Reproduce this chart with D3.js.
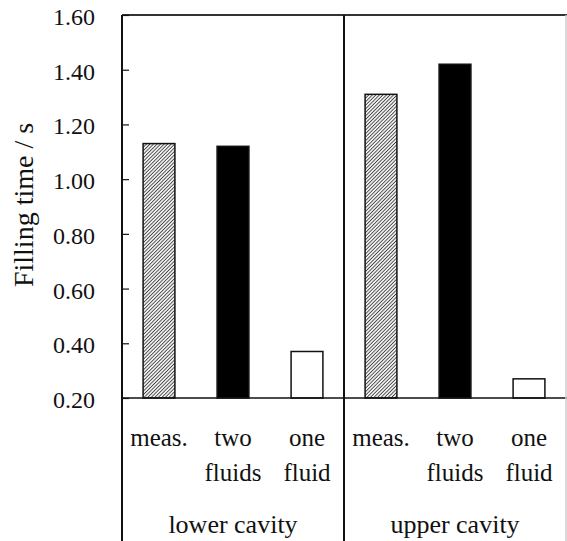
<!DOCTYPE html>
<html>
<head>
<meta charset="utf-8">
<script src="https://cdn.jsdelivr.net/npm/d3@7"></script>
<style>
  body { margin: 0; background: #fff; }
  svg { display: block; }
</style>
</head>
<body>
<div id="container"></div>
<script>
// data
const groups = ['lower cavity', 'upper cavity'];
const methods = ['meas.', 'two fluids', 'one fluid'];
const methodLines = [['meas.'], ['two', 'fluids'], ['one', 'fluid']];
const lowerValues = [1.13, 1.12, 0.37];
const upperValues = [1.31, 1.42, 0.27];
const yTicks = [0.20, 0.40, 0.60, 0.80, 1.00, 1.20, 1.40, 1.60];

const width = 567, height = 541;
const plotLeft = 122, plotRight = 566, plotTop = 15, plotBase = 398;
const serif = "'Liberation Serif', 'DejaVu Serif', serif";

const svg = d3.select('#container').append('svg')
  .attr('width', width)
  .attr('height', height)
  .attr('font-family', serif);

// hatch for measured bars
const defs = svg.append('defs');
defs.append('pattern')
  .attr('id', 'hatch')
  .attr('patternUnits', 'userSpaceOnUse')
  .attr('width', 2.5)
  .attr('height', 2.5)
  .attr('patternTransform', 'rotate(45)')
  .call(p => {
    p.append('rect').attr('width', 2.5).attr('height', 2.5).attr('fill', '#eee');
    p.append('line').attr('x1', 0).attr('y1', 0).attr('x2', 0).attr('y2', 2.5)
      .attr('stroke', '#222').attr('stroke-width', 1.4);
  });

const y = d3.scaleLinear().domain([0.2, 1.6]).range([plotBase, plotTop]);
const xGroup = d3.scaleBand().domain(groups).range([plotLeft, plotRight]);
const xInner = d3.scaleBand().domain(methods).range([0, xGroup.bandwidth()]);
const barW = xInner.bandwidth() * 0.43;

const fills = ['url(#hatch)', '#000', '#fff'];

const data = [];
groups.forEach((g, gi) => {
  const vals = gi === 0 ? lowerValues : upperValues;
  methods.forEach((m, mi) => data.push({group: g, method: m, value: vals[mi], fill: fills[mi]}));
});

// bars
svg.append('g').selectAll('rect')
  .data(data)
  .join('rect')
  .attr('x', d => xGroup(d.group) + xInner(d.method) + xInner.bandwidth() / 2 - barW / 2)
  .attr('y', d => y(d.value))
  .attr('width', barW)
  .attr('height', d => plotBase - y(d.value))
  .attr('fill', d => d.fill)
  .attr('stroke', '#111')
  .attr('stroke-width', 1.5);

// frame lines
svg.append('line').attr('x1', plotLeft).attr('x2', width).attr('y1', plotTop).attr('y2', plotTop)
  .attr('stroke', '#333').attr('stroke-width', 2);
svg.append('line').attr('x1', plotLeft).attr('x2', width).attr('y1', plotBase).attr('y2', plotBase)
  .attr('stroke', '#111').attr('stroke-width', 1.5);
svg.append('line').attr('x1', plotRight).attr('x2', plotRight).attr('y1', plotTop).attr('y2', height)
  .attr('stroke', '#ccc').attr('stroke-width', 1.5);
svg.append('line').attr('x1', xGroup(groups[1])).attr('x2', xGroup(groups[1])).attr('y1', plotTop).attr('y2', height)
  .attr('stroke', '#111').attr('stroke-width', 2);

// y axis
const yAxis = d3.axisRight(y).tickValues(yTicks).tickSize(7).tickFormat('');
const ax = svg.append('g').attr('transform', `translate(${plotLeft},0)`).call(yAxis);
ax.select('.domain').remove();
ax.selectAll('.tick line').attr('stroke', '#111').attr('stroke-width', 1.2);
svg.append('line').attr('x1', plotLeft).attr('x2', plotLeft).attr('y1', plotTop).attr('y2', height)
  .attr('stroke', '#111').attr('stroke-width', 2);

svg.append('g').selectAll('text')
  .data(yTicks)
  .join('text')
  .attr('x', 95)
  .attr('y', d => y(d) + 10)
  .attr('text-anchor', 'end')
  .attr('font-size', 24)
  .attr('fill', '#111')
  .text(d => d.toFixed(2));

svg.append('text')
  .attr('transform', 'translate(33,205) rotate(-90)')
  .attr('text-anchor', 'middle')
  .attr('font-size', 28)
  .attr('fill', '#111')
  .text('Filling time / s');

// category labels
groups.forEach(g => {
  methods.forEach((m, mi) => {
    const cx = xGroup(g) + xInner(m) + xInner.bandwidth() / 2;
    methodLines[mi].forEach((line, li) => {
      svg.append('text')
        .attr('x', cx)
        .attr('y', 446 + li * 35)
        .attr('text-anchor', 'middle')
        .attr('font-size', 25)
        .attr('fill', '#111')
        .text(line);
    });
  });
  svg.append('text')
    .attr('x', xGroup(g) + xGroup.bandwidth() / 2)
    .attr('y', 533)
    .attr('text-anchor', 'middle')
    .attr('font-size', 26)
    .attr('fill', '#111')
    .text(g);
});
</script>
</body>
</html>
